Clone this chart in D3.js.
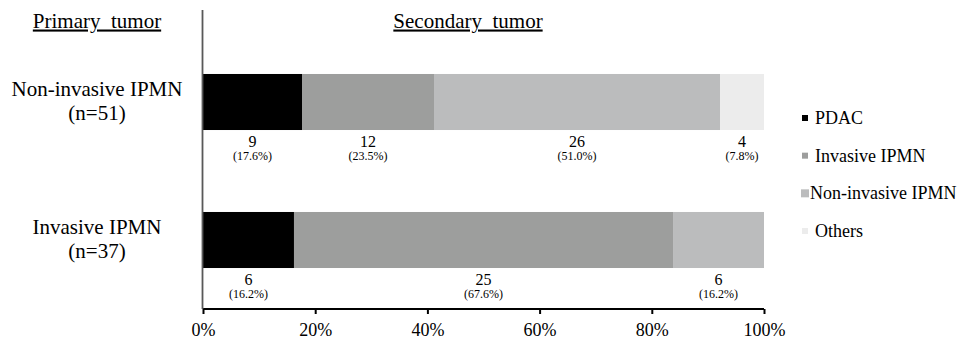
<!DOCTYPE html>
<html>
<head>
<meta charset="utf-8">
<script src="https://cdn.jsdelivr.net/npm/d3@7"></script>
<style>
  body { margin: 0; background: #fff; }
  svg text { font-family: "Liberation Serif", "Times New Roman", serif; fill: #000; }
</style>
</head>
<body>
<div id="chart"><svg width="960" height="339"></svg></div>
<script>
// primary tumor groups and their sizes
const categories = ["Non-invasive IPMN", "Invasive IPMN"];
const groupN = [51, 37];

// secondary tumor types (stack order) and counts per group
const seriesNames = ["PDAC", "Invasive IPMN", "Non-invasive IPMN", "Others"];
const pdac = [9, 6];
const invasive = [12, 25];
const nonInvasive = [26, 6];
const others = [4, 0];
const seriesColors = ["#000000", "#9d9e9d", "#bbbcbd", "#ececec"];

const xTicks = [0, 0.2, 0.4, 0.6, 0.8, 1];

/***** SETUP *****/
const svg = d3.select("#chart").select("svg");
const margin = {top: 33, left: 203, right: 196, bottom: 30};
const width = 960, height = 339;

const rows = categories.map((c, i) => ({
    cat: c, n: groupN[i],
    "PDAC": pdac[i],
    "Invasive IPMN": invasive[i],
    "Non-invasive IPMN": nonInvasive[i],
    "Others": others[i]
}));

const stack = d3.stack()
    .keys(seriesNames)
    .offset(d3.stackOffsetExpand);
const stacked = stack(rows);

/***** SCALES *****/
const xScale = d3.scaleLinear()
    .domain([0, 1])
    .range([margin.left, width - margin.right]);

const yScale = d3.scaleBand()
    .domain(categories)
    .range([33, 309])
    .paddingInner(0.594)
    .paddingOuter(0.297);

const color = d3.scaleOrdinal().domain(seriesNames).range(seriesColors);

/***** BARS *****/
const plot = svg.append("g");

plot.selectAll(".series")
    .data(stacked)
    .join("g")
    .attr("class", "series")
    .attr("fill", d => color(d.key))
    .selectAll("rect")
    .data(d => d)
    .join("rect")
    .attr("x", d => xScale(d[0]))
    .attr("width", d => xScale(d[1]) - xScale(d[0]))
    .attr("y", d => yScale(d.data.cat))
    .attr("height", yScale.bandwidth());

/***** VALUE LABELS (count + percent below each segment) *****/
const labels = [];
stacked.forEach(s => {
    s.forEach(d => {
        const count = d.data[s.key];
        if (count > 0) {
            labels.push({
                count: count,
                pct: (count / d.data.n * 100).toFixed(1) + "%",
                xm: (xScale(d[0]) + xScale(d[1])) / 2,
                y0: yScale(d.data.cat) + yScale.bandwidth()
            });
        }
    });
});

const lab = plot.selectAll(".valLabel")
    .data(labels)
    .join("g")
    .attr("class", "valLabel");

lab.append("text")
    .attr("x", d => d.xm)
    .attr("y", d => d.y0 + 17)
    .attr("text-anchor", "middle")
    .style("font-size", "16px")
    .text(d => d.count);

lab.append("text")
    .attr("x", d => d.xm)
    .attr("y", d => d.y0 + 29.5)
    .attr("text-anchor", "middle")
    .style("font-size", "12px")
    .text(d => "(" + d.pct + ")");

/***** AXES *****/
const xAxis = svg.append("g")
    .attr("transform", `translate(0, 309)`)
    .call(d3.axisBottom(xScale)
        .tickValues(xTicks)
        .tickSize(5)
        .tickPadding(9)
        .tickFormat(d3.format(".0%")))
    .attr("font-family", "Liberation Serif, serif")
    .attr("font-size", 18);

xAxis.select(".domain")
    .attr("d", `M${xScale(0)},0H${xScale(1)}`)
    .attr("stroke", "#000")
    .attr("stroke-width", 2);
xAxis.selectAll(".tick line").attr("stroke", "#000").attr("stroke-width", 2);
xAxis.selectAll(".tick text")
    .style("font-family", "'Liberation Serif', serif")
    .style("font-size", "18px")
    .attr("fill", "#000");

// vertical separator / y axis
svg.append("line")
    .attr("x1", xScale(0) - 0.5).attr("x2", xScale(0) - 0.5)
    .attr("y1", 10).attr("y2", 309)
    .attr("stroke", "#595959")
    .attr("stroke-width", 1.8);

/***** CATEGORY LABELS *****/
const catG = svg.selectAll(".catLabel")
    .data(rows)
    .join("g")
    .attr("class", "catLabel");

catG.append("text")
    .attr("x", 97)
    .attr("y", d => yScale(d.cat) + yScale.bandwidth() / 2 - 6)
    .attr("text-anchor", "middle")
    .style("font-size", "21px")
    .text(d => d.cat);

catG.append("text")
    .attr("x", 97)
    .attr("y", d => yScale(d.cat) + yScale.bandwidth() / 2 + 18)
    .attr("text-anchor", "middle")
    .style("font-size", "21px")
    .text(d => "(n=" + d.n + ")");

/***** HEADERS *****/
svg.selectAll(".header")
    .data([{label: "Primary\u00a0\u00a0tumor", x: 97}, {label: "Secondary\u00a0\u00a0tumor", x: 468}])
    .join("text")
    .attr("class", "header")
    .attr("x", d => d.x)
    .attr("y", 27.5)
    .attr("text-anchor", "middle")
    .style("font-size", "21px")
    .style("text-decoration", "underline")
    .text(d => d.label);

/***** LEGEND *****/
const legend = svg.append("g");
const legY = d3.scalePoint().domain(seriesNames).range([118, 231]);

const item = legend.selectAll(".legItem")
    .data(seriesNames)
    .join("g")
    .attr("class", "legItem")
    .attr("transform", d => `translate(0, ${legY(d)})`);

item.append("rect")
    .attr("x", d => d === "Non-invasive IPMN" ? 801 : 802)
    .attr("y", d => d === "Non-invasive IPMN" ? -4 : -3)
    .attr("width", d => d === "Non-invasive IPMN" ? 8 : 6)
    .attr("height", d => d === "Non-invasive IPMN" ? 8 : 6)
    .attr("fill", d => color(d));

item.append("text")
    .attr("x", d => d === "Non-invasive IPMN" ? 810 : 815)
    .attr("y", 6)
    .style("font-size", "18px")
    .text(d => d);
</script>
</body>
</html>
